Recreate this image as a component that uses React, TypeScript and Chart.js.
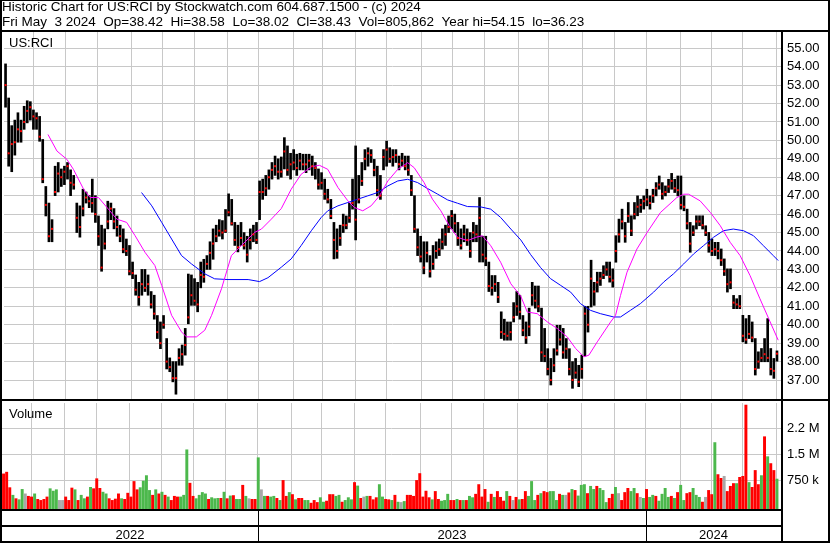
import React, { useEffect, useRef } from "react";
import { Chart, registerables } from "chart.js";

Chart.register(...registerables);

const FONT = '"Liberation Sans", Arial, sans-serif';

const titleLine1 = "Historic Chart for US:RCI by Stockwatch.com 604.687.1500 - (c) 2024";
const titleLine2 = "Fri May  3 2024  Op=38.42  Hi=38.58  Lo=38.02  Cl=38.43  Vol=805,862  Year hi=54.15  lo=36.23";
const symbolLabel = "US:RCI";
const volumeLabel = "Volume";

// one bar per two trading days, May 2022 .. May 3 2024
const highs = [
  54.15, 52.3, 50.8, 51.1, 51.5, 51.1, 51.85, 52.15, 52.1, 51.65,
  51.5, 51.3, 50.05, 47.5, 46.6, 45.7, 48.6, 48.8, 48.45, 48.6,
  48.8, 48.4, 48.1, 46.6, 46.45, 47.35, 47.2, 47.0, 47.9, 47.0,
  45.9, 45.4, 45.2, 46.7, 46.6, 46.3, 45.9, 45.4, 45.2, 44.65,
  44.3, 43.4, 42.7, 42.3, 43.0, 43.0, 42.7, 41.8, 41.6, 40.5,
  40.15, 40.5, 39.25, 38.2, 38.0, 38.0, 38.7, 38.9, 39.8, 42.75,
  42.7, 42.5, 42.3, 43.4, 43.55, 43.75, 44.5, 45.2, 45.4, 45.7,
  45.65, 46.25, 47.1, 46.8, 45.55, 45.4, 45.55, 45.0, 44.8, 45.2,
  45.4, 45.55, 47.8, 47.9, 48.1, 48.4, 48.8, 49.15, 49.0, 49.1,
  50.15, 49.7, 49.3, 49.5, 49.25, 49.3, 49.25, 49.25, 49.25, 49.15,
  48.8, 48.45, 48.25, 47.9, 47.35, 46.8, 45.55, 45.2, 45.4, 46.0,
  45.9, 46.6, 47.9, 49.7, 48.1, 48.8, 49.5, 49.6, 49.5, 48.97,
  48.6, 48.1, 49.5, 49.96, 49.6, 49.5, 49.5, 49.15, 49.3, 49.15,
  49.15, 48.1, 47.0, 45.2, 44.8, 44.5, 44.5, 43.75, 44.3, 44.5,
  44.65, 45.2, 45.4, 45.9, 46.2, 46.0, 45.55, 45.2, 45.4, 45.2,
  45.0, 45.55, 45.4, 46.9, 44.8, 44.8, 43.4, 42.67, 42.67, 42.3,
  40.7, 40.3, 40.15, 40.15, 41.2, 41.8, 41.6, 40.5, 40.15, 40.9,
  42.3, 42.1, 42.1, 40.9, 39.8, 38.7, 38.17, 38.7, 39.97, 39.97,
  39.8, 39.25, 38.7, 38.0, 38.17, 37.8, 38.35, 41.0, 41.0, 43.5,
  42.3, 42.85, 42.85, 43.2, 43.4, 43.4, 43.03, 44.83, 45.73, 46.27,
  45.55, 46.63, 45.91, 46.63, 46.99, 46.81, 46.99, 47.35, 46.99, 47.35,
  47.71, 48.07, 47.71, 47.53, 47.89, 48.21, 47.89, 48.07, 48.07, 46.99,
  46.27, 45.55, 45.37, 45.91, 45.91, 45.91, 45.37, 45.01, 44.65, 44.47,
  44.47, 44.11, 43.57, 43.03, 43.03, 41.59, 41.41, 41.59, 40.51, 40.33,
  40.51, 40.15, 39.25, 38.53, 38.71, 39.25, 40.33, 38.71, 38.17, 38.58,
];

const lows = [
  51.8, 48.6, 48.3, 49.2, 49.9, 49.9, 50.6, 50.95, 51.1, 50.6,
  50.6, 49.95, 47.7, 45.9, 44.5, 44.5, 47.0, 47.2, 47.5, 47.6,
  47.9, 47.0, 47.35, 45.0, 44.75, 45.9, 46.6, 46.35, 46.1, 45.55,
  44.3, 42.9, 44.1, 45.2, 45.7, 45.2, 44.8, 44.5, 43.9, 43.75,
  42.7, 42.5, 41.6, 41.05, 41.6, 41.8, 41.6, 40.9, 40.3, 39.25,
  38.7, 39.8, 37.6, 37.45, 36.9, 36.23, 37.8, 37.8, 38.35, 40.05,
  41.05, 41.05, 40.7, 42.0, 42.3, 43.0, 43.0, 43.55, 44.5, 44.8,
  44.65, 45.0, 45.9, 45.4, 44.3, 43.95, 44.3, 44.1, 43.4, 44.1,
  44.5, 44.4, 45.7, 46.8, 47.0, 47.35, 47.9, 48.1, 47.9, 48.0,
  48.45, 48.1, 47.9, 48.4, 48.1, 48.4, 48.4, 48.25, 48.4, 48.1,
  47.9, 47.35, 47.35, 46.8, 46.6, 45.75, 43.57, 43.6, 44.3, 45.0,
  45.2, 45.55, 46.27, 44.6, 46.6, 47.55, 48.4, 48.6, 48.8, 48.07,
  46.99, 46.8, 48.4, 48.6, 48.8, 48.6, 48.8, 48.4, 48.6, 48.4,
  48.1, 47.0, 45.0, 43.75, 43.4, 42.76, 43.4, 42.58, 43.0, 43.6,
  43.75, 44.1, 44.3, 45.0, 45.2, 45.0, 44.3, 44.1, 44.5, 44.3,
  43.65, 44.5, 44.5, 43.4, 43.4, 43.2, 41.8, 41.6, 41.8, 41.2,
  39.25, 39.16, 39.16, 39.16, 40.15, 40.5, 40.3, 39.4, 38.98, 39.4,
  41.05, 40.9, 40.7, 38.0, 37.99, 37.27, 36.73, 37.45, 38.35, 38.89,
  38.17, 38.17, 37.27, 36.55, 37.09, 36.64, 37.09, 38.3, 39.6, 40.96,
  41.05, 41.77, 42.13, 42.5, 42.67, 42.31, 42.04, 43.39, 44.47, 45.19,
  44.47, 45.55, 44.83, 45.73, 45.91, 46.09, 46.27, 46.45, 46.27, 46.63,
  46.99, 47.35, 46.81, 46.99, 47.17, 47.35, 47.17, 46.99, 46.27, 46.18,
  45.19, 43.93, 44.83, 45.19, 45.37, 45.19, 44.83, 43.93, 43.75, 43.75,
  43.57, 43.21, 42.67, 41.77, 41.95, 40.87, 40.87, 40.87, 39.07, 38.98,
  39.25, 39.07, 37.27, 37.63, 37.99, 37.99, 37.99, 37.27, 37.09, 38.02,
];

const closes = [
  53.0, 49.3, 49.8, 49.9, 50.6, 50.5, 51.0, 51.6, 51.8, 51.3,
  51.2, 50.2, 47.9, 46.5, 44.8, 45.2, 47.2, 48.2, 48.0, 48.3,
  48.6, 47.7, 47.6, 45.8, 45.3, 46.3, 46.9, 46.7, 46.6, 46.0,
  44.8, 43.1, 44.4, 45.6, 46.3, 45.6, 45.3, 44.8, 44.1, 44.0,
  42.9, 42.8, 41.9, 41.5, 42.2, 42.0, 42.2, 41.1, 40.6, 39.6,
  39.0, 40.0, 38.0, 37.7, 37.1, 37.1, 38.2, 38.4, 38.9, 40.4,
  41.6, 41.3, 41.1, 42.7, 42.6, 43.3, 43.9, 44.4, 44.8, 45.1,
  45.0, 45.1, 46.1, 45.5, 44.6, 44.2, 44.7, 44.3, 43.8, 44.6,
  44.9, 44.6, 47.2, 47.2, 47.4, 48.0, 48.4, 48.6, 48.3, 48.3,
  49.4, 48.4, 48.7, 48.8, 48.5, 48.9, 48.7, 48.7, 48.9, 48.6,
  48.5, 47.6, 47.7, 47.1, 46.8, 45.9, 44.6, 44.0, 44.7, 45.4,
  45.4, 45.8, 46.6, 45.7, 46.8, 47.8, 49.0, 49.3, 49.2, 48.4,
  47.3, 47.0, 49.1, 49.5, 49.0, 49.1, 49.2, 48.7, 48.9, 48.6,
  48.4, 47.3, 45.2, 44.2, 43.7, 43.1, 43.9, 42.9, 43.3, 44.0,
  44.1, 44.5, 44.9, 45.3, 45.9, 45.5, 44.7, 44.3, 44.9, 44.6,
  44.0, 45.0, 44.9, 45.8, 43.8, 43.6, 42.1, 42.0, 42.2, 41.5,
  39.6, 39.5, 39.4, 39.6, 40.4, 41.0, 40.7, 39.7, 39.3, 39.9,
  41.6, 41.3, 41.0, 38.5, 38.3, 37.6, 37.0, 37.8, 38.6, 39.2,
  38.5, 38.7, 37.6, 37.0, 37.4, 36.9, 37.6, 40.6, 40.0, 42.5,
  41.8, 42.3, 42.5, 42.7, 43.0, 42.6, 42.4, 44.0, 44.9, 45.6,
  44.8, 45.9, 45.1, 46.0, 46.4, 46.5, 46.7, 46.8, 46.6, 47.0,
  47.4, 47.6, 47.1, 47.2, 47.5, 47.8, 47.4, 47.3, 46.5, 46.4,
  45.5, 44.4, 45.0, 45.6, 45.6, 45.4, 45.0, 44.3, 44.0, 44.1,
  44.0, 43.5, 42.9, 42.2, 42.3, 41.2, 41.1, 41.0, 39.4, 39.2,
  39.5, 39.3, 37.6, 38.0, 38.2, 38.4, 38.2, 37.6, 37.5, 38.43,
];

// volume in millions of shares
const volumes = [
  0.95, 1.0, 0.55, 0.33, 0.23, 0.2, 0.5, 0.37, 0.3, 0.28,
  0.37, 0.21, 0.18, 0.21, 0.28, 0.52, 0.45, 0.49, 0.18, 0.18,
  0.28, 0.18, 0.54, 0.49, 0.18, 0.33, 0.23, 0.28, 0.56, 0.52,
  0.81, 0.53, 0.42, 0.37, 0.23, 0.18, 0.22, 0.37, 0.23, 0.21,
  0.39, 0.28, 0.73, 0.49, 0.55, 0.74, 0.9, 0.47, 0.33, 0.49,
  0.37, 0.42, 0.33, 0.28, 0.18, 0.3, 0.28, 0.28, 0.33, 1.65,
  0.68, 0.3, 0.23, 0.33, 0.41, 0.37, 0.21, 0.26, 0.23, 0.24,
  0.24, 0.42, 0.23, 0.31, 0.32, 0.21, 0.21, 0.62, 0.3, 0.23,
  0.21, 0.21, 1.42, 0.49, 0.3, 0.3, 0.28, 0.3, 0.24, 0.18,
  0.76, 0.3, 0.41, 0.35, 0.2, 0.24, 0.24, 0.18, 0.18, 0.1,
  0.18, 0.12, 0.26, 0.13, 0.16, 0.35, 0.35, 0.3, 0.33, 0.13,
  0.18, 0.26, 0.2, 0.7, 0.6, 0.24, 0.28, 0.3, 0.3, 0.2,
  0.26, 0.64, 0.28, 0.21, 0.2, 0.18, 0.33, 0.13, 0.12, 0.15,
  0.33, 0.33, 0.3, 0.76, 0.96, 0.28, 0.45, 0.26, 0.2, 0.44,
  0.21, 0.16, 0.18, 0.36, 0.18, 0.18, 0.21, 0.18, 0.18, 0.18,
  0.3, 0.26, 0.36, 0.64, 0.28, 0.5, 0.13, 0.36, 0.27, 0.44,
  0.27, 0.16, 0.44, 0.3, 0.18, 0.27, 0.2, 0.21, 0.44, 0.3,
  0.73, 0.18, 0.33, 0.38, 0.44, 0.41, 0.44, 0.44, 0.18, 0.36,
  0.33, 0.33, 0.4, 0.5, 0.47, 0.31, 0.62, 0.64, 0.38, 0.59,
  0.5, 0.59, 0.53, 0.47, 0.12, 0.24, 0.36, 0.56, 0.38, 0.18,
  0.41, 0.53, 0.44, 0.53, 0.38, 0.27, 0.24, 0.5, 0.27, 0.33,
  0.3, 0.16, 0.36, 0.53, 0.27, 0.3, 0.24, 0.41, 0.62, 0.18,
  0.38, 0.41, 0.53, 0.33, 0.27, 0.13, 0.27, 0.47, 0.35, 1.86,
  0.93, 0.82, 0.88, 0.44, 0.59, 0.67, 0.67, 0.85, 0.88, 2.95,
  0.7, 0.56, 1.05, 0.64, 0.9, 2.03, 1.45, 1.25, 1.05, 0.8,
];

// r = down day, g = up day, n = unchanged
const volumeDirections =
  "rrrgrggnrr" + "grrrrgggnn" + "rrrgrggrgr" + "rrggrrrrgr" + "rrrrggggrg" +
  "rgrgrrrggg" + "rrggggrggg" + "rgrgrggrgn" + "rrgngrggrg" + "rrgrgrrggr" +
  "rrggrrrggr" + "gggrgrngrr" + "rggrrgrgng" + "rrrrrrrrgr" + "rgggrrgrgr" +
  "ggrrrrgrgr" + "rrgrnrgrrg" + "ggrgrrgggr" + "gnrgrgggrg" + "grgggrrgnr" +
  "rrggrngrgg" + "rggggrgrgg" + "rrgggrnrrg" + "rrnrrrgrrr" + "grrrgrgrrg";

// moving averages: [bar position, value]
const shortAverage: [number, number][] = [
  [13.7, 50.32], [16.6, 49.42], [19.8, 48.97], [21.9, 48.43], [25.2, 47.35], [27.3, 46.9],
  [30.0, 46.9], [33.2, 46.27], [35.9, 45.73], [39.1, 45.55], [41.8, 44.83], [45.0, 43.93],
  [48.2, 43.21], [50.4, 42.13], [53.6, 40.51], [56.8, 39.61], [58.4, 39.34], [61.6, 39.34],
  [64.3, 39.7], [66.5, 40.51], [69.7, 41.95], [72.9, 43.75], [76.1, 44.29], [80.4, 45.01],
  [82.6, 45.19], [85.8, 45.73], [89.0, 46.3], [92.2, 47.35], [95.4, 48.16], [98.7, 48.57],
  [101.3, 48.65], [104.0, 48.43], [107.3, 47.44], [110.5, 46.72], [112.6, 46.36], [115.3, 46.18],
  [118.0, 46.45], [120.7, 46.99], [123.4, 47.8], [126.6, 48.43], [129.8, 48.79], [131.9, 48.52],
  [135.1, 47.71], [137.8, 46.81], [140.5, 46.18], [143.2, 45.37], [145.9, 44.74], [149.1, 44.56],
  [151.8, 44.74], [153.9, 44.83], [156.6, 44.29], [159.8, 43.39], [163.1, 42.22], [166.3, 41.55],
  [168.4, 40.69], [171.6, 40.6], [174.9, 40.15], [178.1, 39.79], [181.3, 39.34], [184.0, 38.71],
  [186.7, 38.26], [188.3, 38.35], [191.0, 39.07], [195.3, 40.15], [196.9, 40.51], [198.5, 41.59],
  [200.6, 42.85], [203.8, 44.11], [207.1, 45.01], [211.4, 46.09], [216.7, 46.9], [218.9, 47.08],
  [220.5, 47.08], [224.2, 46.72], [227.5, 46.09], [230.7, 45.37], [233.9, 44.47], [237.1, 43.75],
  [240.3, 42.67], [243.5, 41.41], [246.8, 40.15], [249.4, 39.16],
];

const longAverage: [number, number][] = [
  [43.9, 47.17], [47.2, 46.45], [50.4, 45.55], [53.6, 44.65], [56.8, 43.75], [60.0, 43.3],
  [64.3, 42.76], [67.5, 42.49], [71.8, 42.45], [78.3, 42.45], [82.0, 42.34], [84.7, 42.55],
  [89.0, 43.12], [92.2, 43.57], [95.4, 44.29], [98.7, 45.1], [101.9, 45.82], [104.0, 46.18],
  [107.3, 46.45], [110.5, 46.63], [113.7, 46.81], [116.9, 46.99], [120.1, 47.17], [123.4, 47.53],
  [126.6, 47.8], [129.8, 47.89], [133.0, 47.71], [136.2, 47.39], [139.5, 47.08], [142.7, 46.77],
  [145.9, 46.59], [149.1, 46.41], [153.4, 46.39], [156.6, 46.27], [159.8, 45.82], [163.1, 45.19],
  [166.3, 44.6], [169.5, 43.8], [172.7, 43.1], [175.9, 42.5], [179.2, 42.13], [182.4, 41.77],
  [185.6, 41.14], [188.8, 40.78], [192.0, 40.6], [196.3, 40.42], [198.5, 40.42], [201.7, 40.78],
  [204.9, 41.14], [209.2, 41.77], [212.4, 42.31], [215.6, 42.76], [218.9, 43.3], [222.1, 43.84],
  [225.3, 44.29], [228.5, 44.74], [231.7, 45.1], [234.9, 45.19], [238.2, 45.1], [241.4, 44.83],
  [244.6, 44.29], [247.8, 43.75], [249.4, 43.48],
];

// month starts (bar positions) for vertical grid lines
const monthStarts = [
  9.1, 19.5, 29.8, 40.5, 50.7, 61.1, 71.6, 81.8, 92.8, 102.4, 112.9, 123.0,
  134.1, 144.3, 154.5, 165.5, 175.1, 186.1, 196.6, 206.8, 218.0, 228.0, 238.0, 248.7,
];
const yearBoundaries = [81.8, 206.8];
const yearLabels = ["2022", "2023", "2024"];

const priceTicks = [37, 38, 39, 40, 41, 42, 43, 44, 45, 46, 47, 48, 49, 50, 51, 52, 53, 54, 55];
const priceMin = 35.97;
const priceMax = 55.88;

const volumeTicks = [0.75, 1.5, 2.25];
const volumeTickLabels = ["750 k", "1.5 M", "2.2 M"];
const volumeMin = -0.08;
const volumeMax = 3.0;

const xMin = -0.5;
const xMax = 250.3;

const GRID = "#c8c8c8";
const dirColor: Record<string, string> = { r: "#ff0000", g: "#4cb84c", n: "#a8a8a8" };

function noPad(s: any) {
  s.paddingTop = 0;
  s.paddingBottom = 0;
  s.paddingLeft = 0;
  s.paddingRight = 0;
}

function xScaleOptions(height: number) {
  return {
    type: "linear" as const,
    min: xMin,
    max: xMax,
    offset: false,
    grid: { color: GRID, lineWidth: 1, drawTicks: false, offset: false },
    border: { display: false },
    ticks: { display: false },
    afterBuildTicks: (s: any) => {
      s.ticks = monthStarts.map((v) => ({ value: v }));
    },
    afterFit: (s: any) => {
      s.height = height;
      noPad(s);
    },
  };
}

function yScaleOptions(min: number, max: number, ticks: number[], label: (v: number) => string) {
  return {
    position: "right" as const,
    min,
    max,
    grid: { color: GRID, lineWidth: 1, drawTicks: false },
    border: { display: false },
    ticks: {
      color: "#000",
      font: { family: FONT, size: 13 },
      padding: 6,
      callback: (v: any) => label(Number(v)),
    },
    afterBuildTicks: (s: any) => {
      s.ticks = ticks.map((v) => ({ value: v }));
    },
    afterFit: (s: any) => {
      s.width = 49;
      noPad(s);
    },
  };
}

export default function App() {
  const priceRef = useRef<HTMLCanvasElement>(null);
  const volRef = useRef<HTMLCanvasElement>(null);

  useEffect(() => {
    const framePrice = {
      id: "framePrice",
      afterDraw(chart: any) {
        const ctx = chart.ctx;
        const W = chart.width;
        const H = chart.height;
        const area = chart.chartArea;
        ctx.save();
        ctx.fillStyle = "#000";
        ctx.textBaseline = "alphabetic";
        ctx.textAlign = "left";
        ctx.font = `13.5px ${FONT}`;
        ctx.fillText(titleLine1, 2, 11);
        ctx.fillText(titleLine2, 2, 26);
        ctx.font = `13px ${FONT}`;
        ctx.fillText(symbolLabel, 9, 47);
        ctx.fillRect(0, 0, W, 1);
        ctx.fillRect(0, area.top - 2, W, 2);
        ctx.fillRect(0, 0, 2, H);
        ctx.fillRect(area.right, area.top - 2, 2, H - area.top + 2);
        ctx.fillRect(W - 2, 0, 2, H);
        ctx.fillRect(0, area.bottom, W, 2);
        ctx.restore();
      },
    };

    const priceChart = new Chart(priceRef.current!, {
      type: "bar",
      data: {
        datasets: [
          {
            type: "scatter",
            data: closes.map((c, i) => ({ x: i, y: c })),
            pointStyle: "rect",
            pointRadius: 1.4,
            pointBackgroundColor: "#ff0000",
            pointBorderWidth: 0,
            showLine: false,
          } as any,
          {
            type: "line",
            data: shortAverage.map(([x, y]) => ({ x, y })),
            borderColor: "#ff00ff",
            borderWidth: 1,
            pointRadius: 0,
            tension: 0,
          },
          {
            type: "line",
            data: longAverage.map(([x, y]) => ({ x, y })),
            borderColor: "#0000ff",
            borderWidth: 1,
            pointRadius: 0,
            tension: 0,
          },
          {
            type: "bar",
            data: highs.map((h, i) => ({ x: i, y: [lows[i], h] })),
            backgroundColor: "#000000",
            barThickness: 2,
            grouped: false,
          } as any,
        ],
      },
      options: {
        responsive: false,
        animation: false,
        devicePixelRatio: 1,
        layout: { padding: { left: 2, top: 32, right: 0, bottom: 2 } },
        plugins: { legend: { display: false }, tooltip: { enabled: false } },
        scales: {
          x: xScaleOptions(0) as any,
          y: yScaleOptions(priceMin, priceMax, priceTicks, (v) => v.toFixed(2)) as any,
        },
      },
      plugins: [framePrice],
    });

    const frameVol = {
      id: "frameVol",
      afterDraw(chart: any) {
        const ctx = chart.ctx;
        const W = chart.width;
        const H = chart.height;
        const area = chart.chartArea;
        const xs = chart.scales.x;
        ctx.save();
        ctx.fillStyle = "#000";
        ctx.font = `13px ${FONT}`;
        ctx.textBaseline = "alphabetic";
        ctx.textAlign = "left";
        ctx.fillText(volumeLabel, 9, 15);
        ctx.fillRect(0, 0, 2, H);
        ctx.fillRect(area.right, 0, 2, H);
        ctx.fillRect(W - 2, 0, 2, H);
        ctx.fillRect(0, area.bottom, area.right + 2, 2);
        ctx.fillRect(0, area.bottom + 16, area.right + 2, 2);
        ctx.fillRect(0, H - 2, W, 2);
        const bounds = yearBoundaries.map((b) => Math.round(xs.getPixelForValue(b)));
        bounds.forEach((px) => ctx.fillRect(px, area.bottom, 1, H - area.bottom));
        ctx.textAlign = "center";
        yearLabels.forEach((lab, i) => {
          const l = i === 0 ? area.left : bounds[i - 1];
          const r = i === yearLabels.length - 1 ? area.right : bounds[i];
          ctx.fillText(lab, (l + r) / 2, H - 4);
        });
        ctx.restore();
      },
    };

    const volChart = new Chart(volRef.current!, {
      type: "bar",
      data: {
        datasets: [
          {
            data: volumes.map((v, i) => ({ x: i, y: [volumeMin, v] })),
            backgroundColor: volumes.map((_, i) => dirColor[volumeDirections[i]]),
            barPercentage: 1,
            categoryPercentage: 0.95,
            grouped: false,
          } as any,
        ],
      },
      options: {
        responsive: false,
        animation: false,
        devicePixelRatio: 1,
        layout: { padding: { left: 2, top: 0, right: 0, bottom: 0 } },
        plugins: { legend: { display: false }, tooltip: { enabled: false } },
        scales: {
          x: xScaleOptions(34) as any,
          y: yScaleOptions(volumeMin, volumeMax, volumeTicks, (v) => {
            const k = volumeTicks.indexOf(v);
            return k >= 0 ? volumeTickLabels[k] : "";
          }) as any,
        },
      },
      plugins: [frameVol],
    });

    return () => {
      priceChart.destroy();
      volChart.destroy();
    };
  }, []);

  return (
    <div style={{ position: "fixed", left: 0, top: 0, width: 830, height: 543, background: "#fff" }}>
      <canvas
        ref={priceRef}
        width={830}
        height={403}
        style={{ position: "absolute", left: 0, top: 0, width: 830, height: 403 }}
      />
      <canvas
        ref={volRef}
        width={830}
        height={140}
        style={{ position: "absolute", left: 0, top: 403, width: 830, height: 140 }}
      />
    </div>
  );
}
